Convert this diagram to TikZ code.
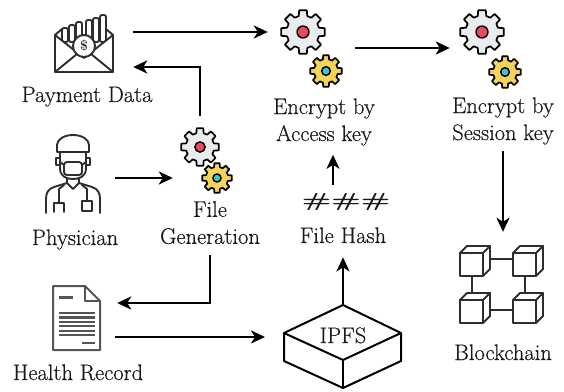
\documentclass[tikz,border=0pt]{standalone}
\usepackage{fontspec}
\usepackage{graphicx}
\usetikzlibrary{arrows.meta,positioning}

\newfontfamily\labelfont{Latin Modern Roman}[FakeBold=0.45]

\definecolor{iconInk}{HTML}{2E2E2E}
\definecolor{docInk}{HTML}{555555}
\definecolor{gearLight}{HTML}{E9EDF0}
\definecolor{gearRed}{HTML}{EC4A5C}
\definecolor{gearGold}{HTML}{F5D25A}
\definecolor{gearCyan}{HTML}{3FC4CF}

\begin{document}
\begin{tikzpicture}[
        x=1pt, y=1pt,
        flowArrow/.style={
            -{Stealth[length=14pt,width=13pt,inset=4pt]},
            draw=black,
            line width=2.6pt
        },
        labelText/.style={
            font=\labelfont\fontsize{22.5}{27}\selectfont,
            text=black!90,
            inner sep=0pt,
            align=center
        },
        iconLine/.style={
            draw=iconInk,
            line width=1.9pt,
            line join=round,
            line cap=round
        },
        docLine/.style={
            draw=docInk,
            line width=2pt
        },
        iconBox/.style={
            inner sep=0pt,
            draw=none
        },
        pics/cog/.style n args={3}{code={
            \node[circle, inner sep=0pt, minimum size=2*#1] (-c) {};
            \draw[line width=1.7pt, line join=round, fill=#2]
                (-15:0.75*#1) \foreach \a in {0,45,...,315}{
                    -- (\a-15:0.75*#1) -- (\a-10:#1) -- (\a+10:#1) -- (\a+15:0.75*#1)
                } -- cycle;
            \draw[line width=1.4pt, fill=#3] (0,0) circle[radius=0.27*#1];
        }},
        pics/block/.style={code={
            \draw[iconLine] (0,0) rectangle (23,23);
            \draw[iconLine] (0,23) -- (7,30) -- (30,30) -- (23,23);
            \draw[iconLine] (23,0) -- (30,7) -- (30,30);
        }}
    ]
        \useasboundingbox (0,0) rectangle (564,391);

        % Payment data envelope
        \node[iconBox, minimum width=58, minimum height=60] (pay) at (84,345) {};
        \begin{scope}[shift={(pay.center)}]
            \foreach \bx/\bt in {-19/18, -12/21, -5/24, 5/26, 12/28, 19/31}
                \draw[iconLine, fill=white, rounded corners=2pt] (\bx-3,4) rectangle (\bx+3,\bt);
            \draw[iconLine] (-29,11) -- (-22,17);
            \draw[iconLine] (29,11) -- (22,17);
            \draw[iconLine, fill=white] (-29,11) -- (-29,-26) -- (29,-26) -- (29,11) -- (0,-12) -- cycle;
            \draw[iconLine] (-29,-26) -- (-7,-8);
            \draw[iconLine] (29,-26) -- (7,-8);
            \draw[iconLine, fill=white] (0,0) circle[radius=11];
            \node[font=\fontsize{14}{14}\selectfont\bfseries, text=iconInk] (coin) at (0,0) {\$};
        \end{scope}

        % Physician
        \node[iconBox, minimum width=56, minimum height=80] (phys) at (73,217) {};
        \begin{scope}[shift={(phys.center)}]
            \draw[iconLine] (-16,22) -- (-16,29) arc[start angle=180, end angle=0, x radius=16, y radius=10] -- (16,22) -- cycle;
            \draw[iconLine] (-13,22) -- (-13,6) .. controls (-13,-3) and (-6,-5) .. (0,-5)
                .. controls (6,-5) and (13,-3) .. (13,6) -- (13,22);
            \draw[iconLine] (-13,16) -- (-17,16) -- (-17,9) -- (-13,9);
            \draw[iconLine] (13,16) -- (17,16) -- (17,9) -- (13,9);
            \draw[iconLine, rounded corners=3pt] (-9,-1) rectangle (9,12);
            \draw[iconLine] (-9,9) -- (-13,12);
            \draw[iconLine] (9,9) -- (13,12);
            \draw[iconLine] (-6,-4) -- (-6,-9) -- (0,-15) -- (6,-9) -- (6,-4);
            \draw[iconLine] (-6,-9) -- (-19,-13) .. controls (-25,-15) and (-27,-19) .. (-27,-25) -- (-27,-39);
            \draw[iconLine] (6,-9) -- (19,-13) .. controls (25,-15) and (27,-19) .. (27,-25) -- (27,-39);
            \draw[iconLine] (-9,-11) -- (-14,-15) -- (-14,-29);
            \draw[iconLine] (-19,-38) -- (-19,-29) -- (-9,-29) -- (-9,-38);
            \draw[iconLine] (9,-11) -- (14,-15) -- (14,-27);
            \draw[iconLine] (9,-27) rectangle (19,-37);
        \end{scope}

        % Health record document
        \node[iconBox, minimum width=47, minimum height=64] (rec) at (76.5,73) {};
        \begin{scope}[shift={(rec.center)}]
            \draw[docLine, line join=round] (-23.5,32) -- (8.5,32) -- (23.5,17) -- (23.5,-32) -- (-23.5,-32) -- cycle;
            \draw[docLine, line join=round] (8.5,32) -- (8.5,17) -- (23.5,17);
            \draw[docLine, line width=3pt] (-18,21) -- (-4,21);
            \foreach \ly in {5,0.6,-3.8,-8.2,-12.6,-17}
                \draw[docLine, line width=2.2pt] (-18,\ly) -- (18,\ly);
            \draw[docLine, line width=2.4pt] (5,-25) -- (18,-25);
        \end{scope}

        % Gear pairs
        \pic (gen) at (200,244) {cog={19}{gearLight}{gearRed}};
        \pic (genS) at (217,213) {cog={15}{gearGold}{gearCyan}};
        \pic (enc1) at (303,359) {cog={22}{gearLight}{gearRed}};
        \pic (enc1S) at (326,320) {cog={16}{gearGold}{gearCyan}};
        \pic (enc2) at (482,359) {cog={22}{gearLight}{gearRed}};
        \pic (enc2S) at (505,319) {cog={16}{gearGold}{gearCyan}};

        % IPFS box
        \coordinate (ipfsTop) at (343,86);
        \coordinate (ipfsLeft) at (284,58);
        \coordinate (ipfsRight) at (401,58);
        \coordinate (ipfsFront) at (343,31);
        \draw[line width=2pt, line join=round] (ipfsTop) -- (ipfsRight) -- (ipfsFront) -- (ipfsLeft) -- cycle;
        \draw[line width=2pt, line join=round] (ipfsLeft) -- ++(0,-28) -- ([yshift=-28pt]ipfsFront)
            -- ([yshift=-28pt]ipfsRight) -- (ipfsRight);
        \draw[line width=2pt] (ipfsFront) -- ++(0,-28);

        % Blockchain cubes
        \node[iconBox, minimum width=84, minimum height=78] (chain) at (502,107) {};
        \pic at (460,115) {block};
        \pic at (513,115) {block};
        \pic at (460,68) {block};
        \pic at (513,68) {block};
        \draw[iconLine] (490,132) -- (513,132);
        \draw[iconLine] (490,81) -- (513,81);
        \draw[iconLine] (472,98) -- (472,115);
        \draw[iconLine] (525,98) -- (525,115);

        % Labels
        \node[labelText, anchor=base] (payLabel) at (87,289) {Payment Data};
        \node[labelText, anchor=base] (physLabel) at (75,146) {Physician};
        \node[labelText] (genLabel) at (210,168.3) {File\\Generation};
        \node[labelText] (enc1Label) at (324,269) {Encrypt by\\Access key};
        \node[labelText] (enc2Label) at (503,270) {Encrypt by\\Session key};
        \node[labelText] (hash) at (346,189.5) {\scalebox{1.4}[0.85]{\bfseries\#\#\#}};
        \node[labelText, anchor=base] (hashLabel) at (343,148) {File Hash};
        \node[labelText, anchor=base] (ipfs) at (343,48) {IPFS};
        \node[labelText, anchor=base] (chainLabel) at (503,31) {Blockchain};
        \node[labelText, anchor=base] (recLabel) at (78,11) {Health Record};

        % Flow arrows
        \draw[flowArrow, shorten <=20pt, shorten >=13pt] (pay.east |- enc1-c) -- (enc1-c.west);
        \draw[flowArrow, shorten <=12pt] (gen-c.north) |- ([xshift=20pt,yshift=-21pt]pay.east);
        \draw[flowArrow, shorten <=14pt, shorten >=29pt] (phys.east |- genS-c) -- (genS-c.west);
        \draw[flowArrow, shorten <=30pt, shorten >=10pt] ([yshift=-16pt]enc1-c.east) -- ([yshift=-16pt]enc2-c.west);
        \draw[flowArrow, shorten <=6pt, shorten >=13pt] (enc2Label.south) -- (enc2Label.south |- chain.north);
        \draw[flowArrow, shorten <=8pt, shorten >=9pt] ([xshift=-13pt]hash.north) -- ([xshift=9pt]enc1Label.south);
        \draw[flowArrow, shorten >=14pt] (ipfsTop) -- (hashLabel.south);
        \draw[flowArrow, shorten <=11pt] (genLabel.south) |- ([xshift=17pt,yshift=15pt]rec.east);
        \draw[flowArrow] ([xshift=15pt,yshift=-19pt]rec.east) -- ([xshift=-19pt,yshift=-4pt]ipfsLeft);

\end{tikzpicture}
\end{document}
